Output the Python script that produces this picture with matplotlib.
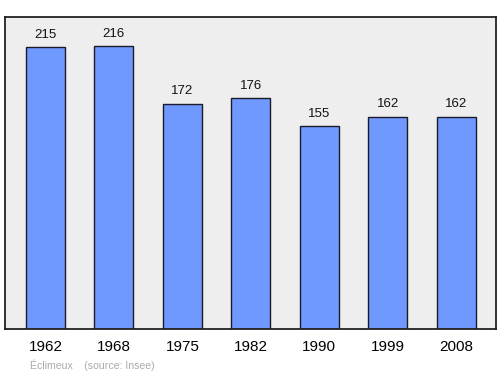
import matplotlib
matplotlib.use("Agg")
import matplotlib.pyplot as plt

years = ["1962", "1968", "1975", "1982", "1990", "1999", "2008"]
population = [215, 216, 172, 176, 155, 162, 162]

plt.rcParams['font.family'] = ['Liberation Sans', 'DejaVu Sans']

fig = plt.figure(figsize=(5.0, 3.74), dpi=100)
ax = fig.add_axes([5/500, 1-329/374, 491/500, 312/374])
ax.set_facecolor('#eeeeee')

x = list(range(len(years)))
ax.bar(x, population, width=0.57, color='#7099ff', edgecolor='#1a1a2a', linewidth=1.0, zorder=2)
for xi, v in zip(x, population):
    ax.text(xi, v + 7, str(v), ha='center', va='baseline', fontsize=9.5, color='#111111')

ax.set_xlim(-0.59, 6.58)
ax.set_ylim(0, 238)
ax.set_yticks([])
ax.set_xticks(x)
ax.set_xticklabels(years, fontsize=11)
ax.tick_params(axis='x', length=0, pad=8)
for s in ax.spines.values():
    s.set_linewidth(1.3)
    s.set_color('#222222')

fig.text(30/500, 1-365/374, "Éclimeux    (source: Insee)", fontsize=7.6, color='#aaaaaa', ha='left', va='center')

fig.savefig("out.png", dpi=100)
